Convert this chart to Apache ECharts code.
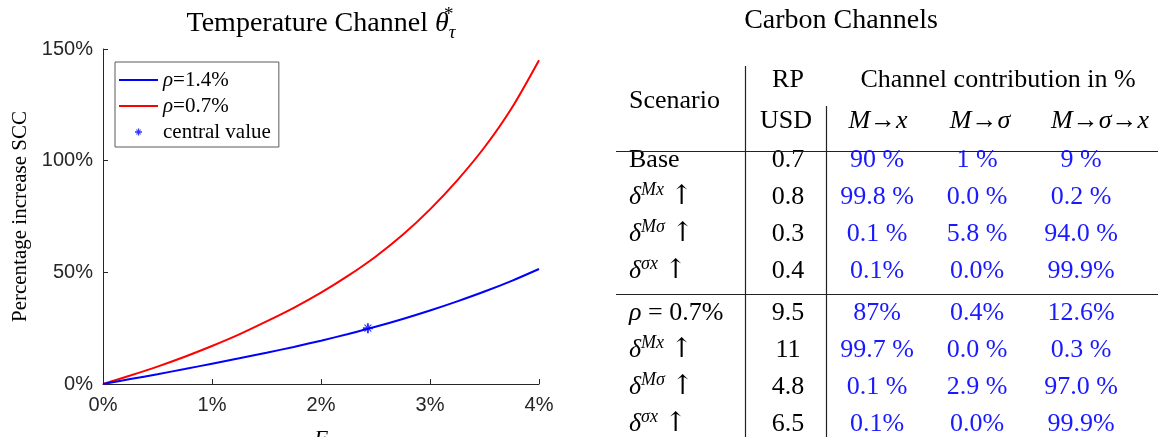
<!DOCTYPE html>
<html>
<head>
<meta charset="UTF-8">
<title>Temperature Channel / Carbon Channels</title>
<script src="https://cdn.jsdelivr.net/npm/echarts@6/dist/echarts.min.js"></script>
</head>
<body style="margin:0;background:#ffffff;">
<div id="main" style="width:1158px;height:437px;"></div>
<script>
// left panel: percentage increase of SCC against F (both in %)
var fValues = [0, 0.25, 0.5, 0.75, 1, 1.25, 1.5, 1.75, 2, 2.25, 2.5, 2.75, 3, 3.25, 3.5, 3.75, 4];
var rhoHigh = [0, 2.2, 4.4, 6.7, 9.1, 11.5, 14.0, 16.6, 19.4, 22.4, 25.6, 29.1, 32.9, 37.0, 41.4, 46.2, 51.5];   // rho = 1.4%
var rhoLow = [0, 3.8, 7.8, 12.2, 17.0, 22.2, 28.0, 34.1, 40.9, 48.5, 57.0, 66.8, 78.2, 91.2, 106.0, 123.6, 145];  // rho = 0.7%
var centralValue = [2.43, 25];
var xTicks = [0, 1, 2, 3, 4];
var yTicks = [0, 50, 100, 150];

// right panel: carbon channels table
var scenarios = ['Base', 'Mx', 'Mσ', 'σx', 'rho', 'Mx', 'Mσ', 'σx'];
var rpUsd = ['0.7', '0.8', '0.3', '0.4', '9.5', '11', '4.8', '6.5'];
var chanMx = ['90 %', '99.8 %', '0.1 %', '0.1%', '87%', '99.7 %', '0.1 %', '0.1%'];
var chanMs = ['1 %', '0.0 %', '5.8 %', '0.0%', '0.4%', '0.0 %', '2.9 %', '0.0%'];
var chanMsx = ['9 %', '0.2 %', '94.0 %', '99.9%', '12.6%', '0.3 %', '97.0 %', '99.9%'];

var SERIF = 'Liberation Serif';
var SANS = 'Liberation Sans';
var AX = '#262626';

function pairs(xs, ys) {
    var out = [];
    for (var i = 0; i < xs.length; i++) out.push([xs[i], ys[i]]);
    return out;
}

var asterisk = 'path://M4,0h2v10h-2z M0,4h10v2h-10z M1.2,1.9L1.9,1.2L8.8,8.1L8.1,8.8z M8.1,1.2L8.8,1.9L1.9,8.8L1.2,8.1z';
var lineIcon = 'path://M0,0h40v2h-40z';

// ---- table as graphic texts ----
var tFont = 26;
var colScen = 629, colRp = 788, colMx = 877, colMs = 977, colMsx = 1081;
var rowY = [160, 197, 234, 271, 313, 350, 387, 424];
var richT = {
    n: {fontFamily: SERIF, fontSize: tFont, fill: '#000', lineHeight: 32},
    i: {fontFamily: SERIF, fontSize: tFont, fontStyle: 'italic', fill: '#000', lineHeight: 32},
    ar: {fontFamily: 'DejaVu Serif', fontSize: 27, fill: '#000', lineHeight: 32},
    sup: {fontFamily: SERIF, fontSize: 18, fontStyle: 'italic', fill: '#000', lineHeight: 18, verticalAlign: 'top'}
};

function txt(s, x, y, align, color, size) {
    return {
        type: 'text', silent: true,
        style: {
            text: s, x: x, y: y, align: align || 'center', verticalAlign: 'middle',
            fill: color || '#000', fontFamily: SERIF, fontSize: size || tFont, rich: richT
        }
    };
}

function scenLabel(s) {
    if (s === 'Base') return '{n|Base}';
    if (s === 'rho') return '{i|ρ}{n| = 0.7%}';
    return '{i|δ}{sup|' + s + '}{n| }{ar|↑}';
}

var graphics = [];
// titles
graphics.push({
    type: 'text', silent: true,
    style: {
        text: '{n|Temperature Channel }{i|θ}{sp|*}{sb|τ}', x: 321, y: 24,
        align: 'center', verticalAlign: 'middle',
        rich: {
            n: {fontFamily: SERIF, fontSize: 28, fill: '#000', lineHeight: 36},
            i: {fontFamily: SERIF, fontSize: 28, fontStyle: 'italic', fill: '#000', lineHeight: 36},
            sp: {fontFamily: SERIF, fontSize: 19, fill: '#000', lineHeight: 19, verticalAlign: 'top', width: 0},
            sb: {fontFamily: SERIF, fontSize: 19, fontStyle: 'italic', fill: '#000', lineHeight: 19, verticalAlign: 'bottom'}
        }
    }
});
graphics.push(txt('Carbon Channels', 841, 21, 'center', '#000', 28));

// header
graphics.push(txt('{n|Scenario}', colScen, 101, 'left'));
graphics.push(txt('{n|RP}', colRp, 80));
graphics.push(txt('{n|USD}', colRp - 2, 121));
graphics.push(txt('{n|Channel contribution in %}', 998, 80));
graphics.push(txt('{i|M}{n|→}{i|x}', 878, 121));
graphics.push(txt('{i|M}{n|→}{i|σ}', 980, 121));
graphics.push(txt('{i|M}{n|→}{i|σ}{n|→}{i|x}', 1100, 121));

for (var r = 0; r < scenarios.length; r++) {
    graphics.push(txt(scenLabel(scenarios[r]), colScen, rowY[r], 'left'));
    graphics.push(txt('{n|' + rpUsd[r] + '}', colRp, rowY[r]));
    graphics.push(txt(chanMx[r], colMx, rowY[r], 'center', '#1a1aff'));
    graphics.push(txt(chanMs[r], colMs, rowY[r], 'center', '#1a1aff'));
    graphics.push(txt(chanMsx[r], colMsx, rowY[r], 'center', '#1a1aff'));
}

// rules
function rule(x1, y1, x2, y2) {
    return {type: 'line', silent: true, shape: {x1: x1, y1: y1, x2: x2, y2: y2},
        style: {stroke: '#222', lineWidth: 1.2}};
}
graphics.push(rule(745.5, 66, 745.5, 437));
graphics.push(rule(826.5, 106, 826.5, 437));
graphics.push(rule(616, 151.5, 1158, 151.5));
graphics.push(rule(616, 294.5, 1158, 294.5));

var myChart = echarts.init(document.getElementById('main'), null, {renderer: 'canvas'});

var option = {
    backgroundColor: '#ffffff',
    animation: false,
    grid: {left: 103, top: 49, width: 436, height: 335, containLabel: false, outerBoundsMode: 'none'},
    legend: {
        orient: 'vertical',
        left: 115, top: 62,
        padding: [7, 8, 4, 4],
        itemWidth: 39, itemHeight: 7, itemGap: 4,
        symbolKeepAspect: true,
        borderColor: '#5a5a5a', borderWidth: 1,
        backgroundColor: '#ffffff',
        textStyle: {
            fontFamily: SERIF, fontSize: 21, color: '#000', lineHeight: 22,
            rich: {
                i: {fontFamily: SERIF, fontSize: 21, fontStyle: 'italic', color: '#000'},
                n: {fontFamily: SERIF, fontSize: 21, color: '#000'}
            }
        },
        formatter: function (name) {
            if (name.charAt(0) === 'ρ') return '{i|ρ}{n|' + name.slice(1) + '}';
            return '{n|' + name + '}';
        },
        data: [
            {name: 'ρ=1.4%', icon: lineIcon},
            {name: 'ρ=0.7%', icon: lineIcon},
            {name: 'central value', icon: asterisk}
        ]
    },
    xAxis: {
        type: 'value',
        min: xTicks[0], max: xTicks[xTicks.length - 1], interval: 1,
        name: 'F', nameLocation: 'middle', nameGap: 44,
        nameTextStyle: {fontFamily: SERIF, fontStyle: 'italic', fontSize: 22, color: '#000'},
        axisLine: {lineStyle: {color: AX, width: 1}},
        axisTick: {inside: true, length: 5, lineStyle: {color: AX}},
        axisLabel: {margin: 11, fontFamily: SANS, fontSize: 20, color: AX,
            formatter: function (v) { return v + '%'; }},
        splitLine: {show: false}
    },
    yAxis: {
        type: 'value',
        min: yTicks[0], max: yTicks[yTicks.length - 1], interval: 50,
        name: 'Percentage increase SCC', nameLocation: 'middle', nameGap: 72,
        nameTextStyle: {fontFamily: SERIF, fontSize: 21, color: '#000'},
        axisLine: {show: true, lineStyle: {color: AX, width: 1}},
        axisTick: {show: true, inside: true, length: 5, lineStyle: {color: AX}},
        axisLabel: {margin: 10, fontFamily: SANS, fontSize: 20, color: AX,
            formatter: function (v) { return v + '%'; }},
        splitLine: {show: false}
    },
    series: [
        {
            name: 'ρ=1.4%', type: 'line', data: pairs(fValues, rhoHigh),
            smooth: 0.3, symbol: 'none',
            lineStyle: {color: '#0000ff', width: 2}, itemStyle: {color: '#0000ff'}, z: 3
        },
        {
            name: 'ρ=0.7%', type: 'line', data: pairs(fValues, rhoLow),
            smooth: 0.3, symbol: 'none',
            lineStyle: {color: '#ff0000', width: 2}, itemStyle: {color: '#ff0000'}, z: 2
        },
        {
            name: 'central value', type: 'scatter', data: [centralValue],
            symbol: asterisk, symbolSize: 10, itemStyle: {color: '#0000ff'}, z: 4
        }
    ],
    graphic: graphics
};

myChart.setOption(option);
</script>
</body>
</html>
